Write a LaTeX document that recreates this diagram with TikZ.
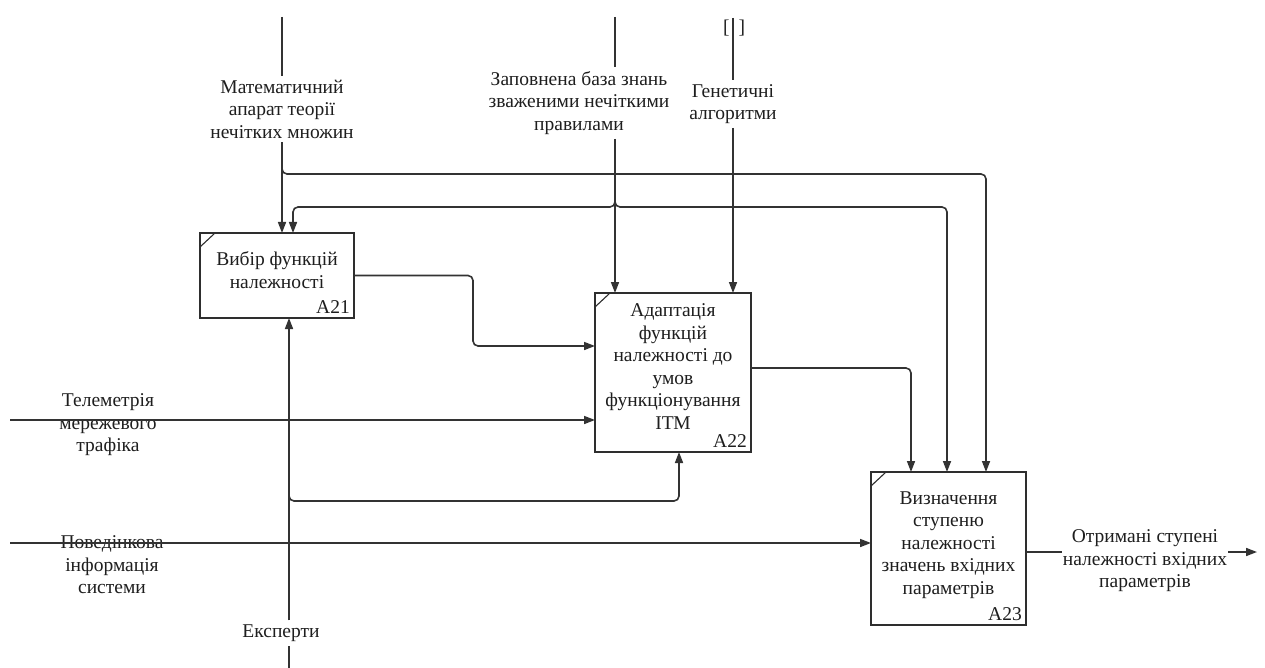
\documentclass[tikz,border=0pt]{standalone}
\usepackage{fontspec}
\setmainfont{Liberation Serif}
\usetikzlibrary{arrows.meta}
\definecolor{lc}{HTML}{333333}
\definecolor{bc}{HTML}{2E2E2E}
\definecolor{tc}{HTML}{1E1E1E}
\tikzset{
  conn/.style={draw=lc, line width=1.6pt, rounded corners=5pt},
  arr/.style={conn, -{Triangle[length=11pt,width=8pt]}},
  fbox/.style={draw=bc, line width=1.8pt, inner sep=0pt, outer sep=0pt, fill=white},
  lbl/.style={font=\fontsize{19.5}{22.5}\selectfont, text=tc, align=center, inner sep=4pt},
  num/.style={font=\fontsize{19.5}{22}\selectfont, text=tc, inner sep=4pt, anchor=south east},
  corner/.style={draw=bc, line width=1.1pt}
}
\begin{document}
\begin{tikzpicture}[x=1pt,y=-1pt]
\useasboundingbox[fill=white] (0,0) rectangle (1265,668);

% function boxes
\node[fbox, minimum width=154pt, minimum height=85pt] (a21) at (277,275.5) {};
\node[fbox, minimum width=156pt, minimum height=159pt] (a22) at (673,372.5) {};
\node[fbox, minimum width=155pt, minimum height=153pt] (a23) at (948.5,548.5) {};

\draw[corner] (a21.north west) ++(0,14) -- ++(15,-14);
\draw[corner] (a22.north west) ++(0,14) -- ++(15,-14);
\draw[corner] (a23.north west) ++(0,14) -- ++(15,-14);

\node[lbl] (a21t) at (277,270) {Вибір функцій\\належності};
\node[lbl] (a22t) at (673,366.5) {Адаптація\\функцій\\належності до\\умов\\функціонування\\ІТМ};
\node[lbl] (a23t) at (948.5,545) {Визначення\\ступеню\\належності\\значень вхідних\\параметрів};

\node[num] (a21n) at (a21.south east) {A21};
\node[num] (a22n) at (a22.south east) {A22};
\node[num] (a23n) at (a23.south east) {A23};

% control: mathematical apparatus
\coordinate (mtop) at (282,17);
\node[lbl] (mlab) at (282,109) {Математичний\\апарат теорії\\нечітких множин};
\draw[conn] (mtop) -- (mlab.north);
\draw[arr] (mlab.south) -- (a21.north -| mtop);
\draw[arr] (mtop |- 0,162) -- (mtop |- 0,174) -- (986,174) -- (a23.north -| 986,0);

% control: knowledge base
\coordinate (ztop) at (615,17);
\node[lbl] (zlab) at (579,103) {Заповнена база знань\\зваженими нечіткими\\правилами};
\draw[conn] (ztop) -- (zlab.north -| ztop);
\draw[arr] (zlab.south -| ztop) -- (a22.north -| ztop);
\draw[arr] (ztop |- 0,197) -- (ztop |- 0,207) -- (293,207) -- (a21.north -| 293,0);
\draw[arr] (ztop |- 0,197) -- (ztop |- 0,207) -- (947,207) -- (a23.north -| 947,0);

% control: genetic algorithms (tunnelled)
\coordinate (gtop) at (733,18);
\node[lbl, inner sep=0pt] (gbr) at (734,28) {[\hspace{9pt}]};
\node[lbl] (glab) at (733,104) {Генетичні\\алгоритми};
\draw[conn] (gtop) -- (glab.north);
\draw[arr] (glab.south) -- (a22.north -| gtop);

% A21 -> A22
\draw[arr] (a21.east) -- (a21.east -| 473,0) -- (473,346) -- (a22.west |- 0,346);

% A22 -> A23
\draw[arr] (a22.east |- 0,368) -- (911,368) -- (a23.north -| 911,0);

% input: telemetry
\coordinate (tin) at (10,420);
\node[lbl] (tlab) at (108,425) {Телеметрія\\мережевого\\трафіка};
\draw[arr] (tin) -- (a22.west |- tin);

% input: behavioural information
\coordinate (bin) at (10,543);
\node[lbl] (blab) at (112,565) {Поведінкова\\інформація\\системи};
\draw[arr] (bin) -- (a23.west |- bin);

% mechanism: experts
\coordinate (ebot) at (289,668);
\node[lbl] (elab) at (281,633) {Експерти};
\draw[conn] (ebot) -- (elab.south -| ebot);
\draw[arr] (elab.north -| ebot) -- (a21.south -| ebot);
\draw[arr] (ebot |- 0,491) -- (ebot |- 0,501) -- (679,501) -- (a22.south -| 679,0);

% output
\node[lbl, inner sep=1pt] (olab) at (1145,561) {Отримані ступені\\належності вхідних\\параметрів};
\coordinate (oend) at (1257,552);
\draw[conn] (a23.east |- oend) -- (olab.west |- oend);
\draw[arr] (olab.east |- oend) -- (oend);
\end{tikzpicture}
\end{document}
